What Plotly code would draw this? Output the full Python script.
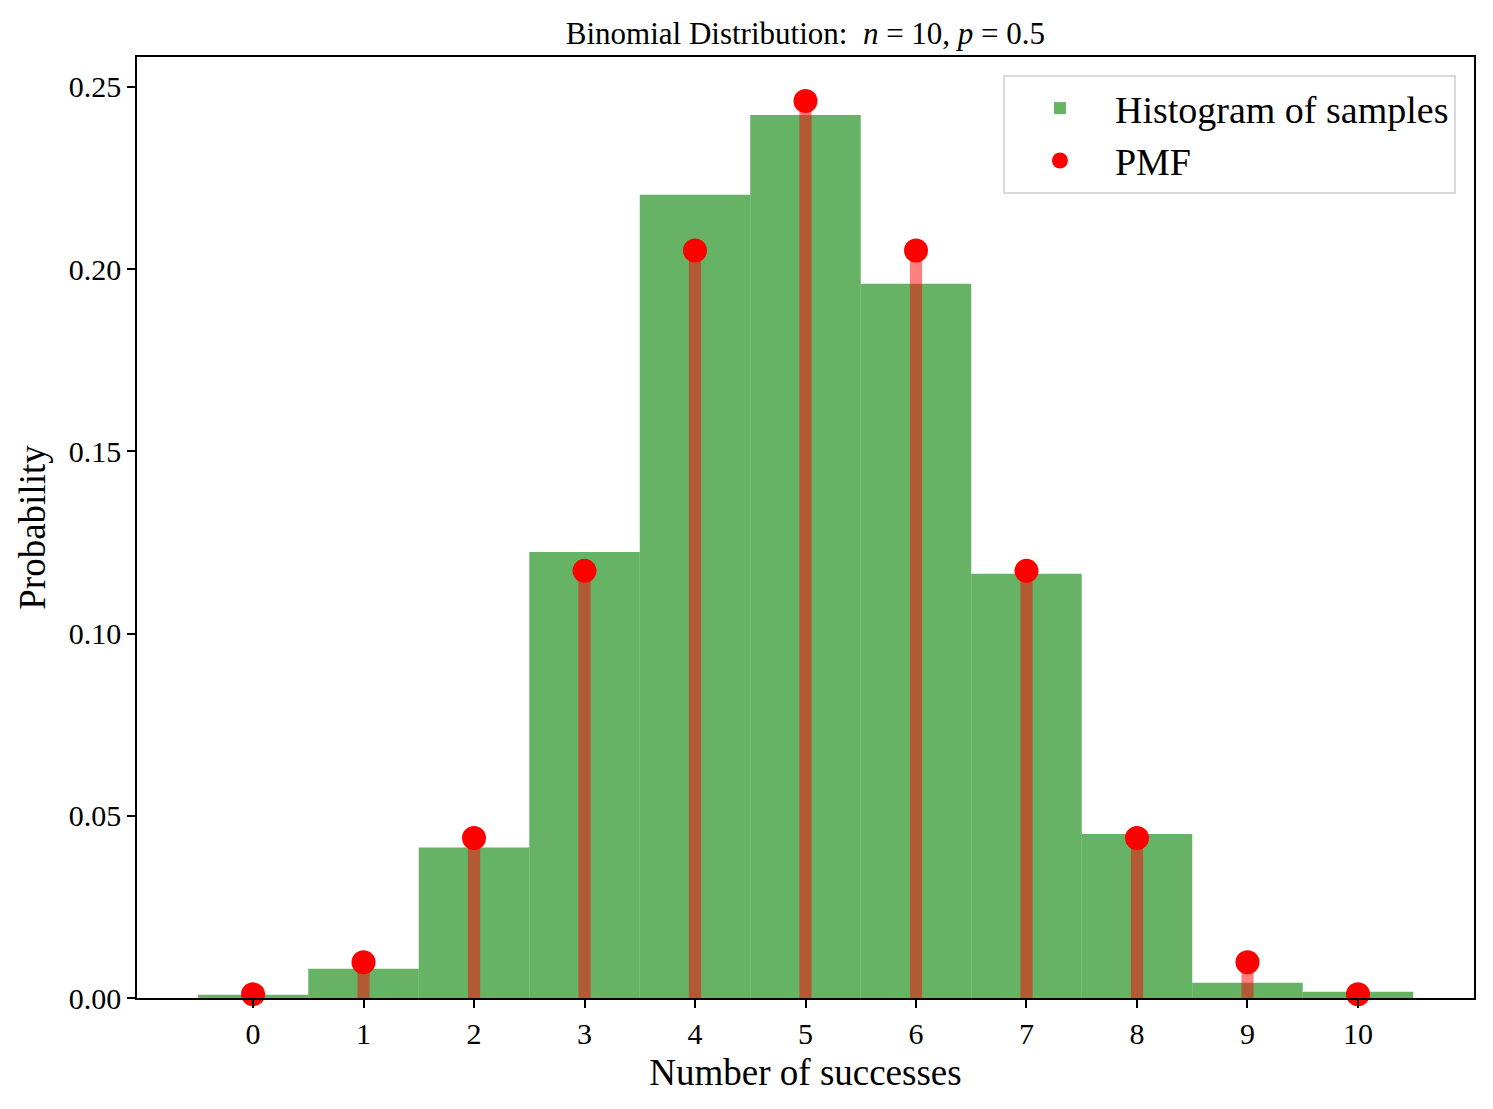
import plotly.graph_objects as go

# Data
successes = [0, 1, 2, 3, 4, 5, 6, 7, 8, 9, 10]
hist_prob = [0.0009, 0.0080, 0.0413, 0.1224, 0.2204, 0.2423,
             0.1960, 0.1164, 0.0450, 0.0042, 0.0017]
pmf_prob = [0.0010, 0.0098, 0.0439, 0.1172, 0.2051, 0.2461,
            0.2051, 0.1172, 0.0439, 0.0098, 0.0010]
y_ticks = [0.0, 0.05, 0.10, 0.15, 0.20, 0.25]
y_tick_labels = ['0.00', '0.05', '0.10', '0.15', '0.20', '0.25']

font_name = 'Liberation Serif'

fig = go.Figure()

# Histogram of samples (density normalised, unit wide bins)
fig.add_trace(go.Bar(
    x=successes, y=hist_prob, width=1.0,
    marker=dict(color='rgba(0,128,0,0.6)', line=dict(width=0)),
    name='Histogram of samples'))

# PMF stems (thin translucent bars)
fig.add_trace(go.Bar(
    x=successes, y=pmf_prob, width=0.11,
    marker=dict(color='rgba(255,0,0,0.5)', line=dict(width=0)),
    showlegend=False, hoverinfo='skip'))

# PMF markers
fig.add_trace(go.Scatter(
    x=successes, y=pmf_prob, mode='markers',
    marker=dict(color='red', size=24),
    name='PMF', cliponaxis=False))

# the page body adds 8px on top/left, so the figure is a bit smaller
fig.update_layout(
    width=1485, height=1101,
    barmode='overlay',
    plot_bgcolor='white', paper_bgcolor='white',
    margin=dict(l=129, r=19, t=49, b=111),
    font=dict(family=font_name, color='black', size=22),
    title=dict(text='Binomial Distribution:&nbsp; <i>n</i>&nbsp;=&nbsp;10, '
                    '<i>p</i>&nbsp;=&nbsp;0.5',
               x=0.537, xanchor='center', y=0.977, yanchor='middle',
               font=dict(size=31)),
    legend=dict(x=0.9865, y=0.981, xanchor='right', yanchor='top',
                bgcolor='white', bordercolor='#d9d9d9', borderwidth=2,
                font=dict(size=38), itemsizing='trace', itemwidth=100),
    showlegend=True,
)

fig.update_xaxes(
    range=[-1.05, 11.05], tickmode='array', tickvals=successes,
    ticks='outside', ticklen=8, tickwidth=1.5, tickcolor='black',
    showline=True, linecolor='black', linewidth=1.5, mirror=True,
    showgrid=False, zeroline=False,
    tickfont=dict(size=30),
    title=dict(text='Number of successes', font=dict(size=37), standoff=10))

fig.update_yaxes(
    range=[0, 0.2582], tickmode='array', tickvals=y_ticks,
    ticktext=y_tick_labels,
    ticks='outside', ticklen=8, tickwidth=1.5, tickcolor='black',
    showline=True, linecolor='black', linewidth=1.5, mirror=True,
    showgrid=False, zeroline=False,
    tickfont=dict(size=30),
    title=dict(text='Probability', font=dict(size=37), standoff=12))

fig.write_html('out.html')
